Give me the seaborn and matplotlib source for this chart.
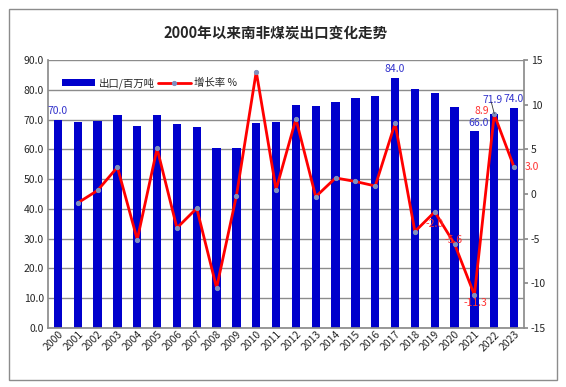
import numpy as np
import pandas as pd
import matplotlib
matplotlib.use("Agg")
import matplotlib.pyplot as plt
import seaborn as sns
from matplotlib.patches import Rectangle

years = [str(y) for y in range(2000, 2024)]
exports = [70.0, 69.2, 69.5, 71.5, 67.8, 71.5, 68.5, 67.4, 60.4, 60.4, 68.8, 69.1,
           74.8, 74.5, 75.8, 77.2, 77.9, 84.0, 80.2, 78.9, 74.2, 66.0, 71.9, 74.0]
growth = [np.nan, -1.0, 0.4, 3.0, -5.1, 5.1, -3.8, -1.6, -10.5, -0.2, 13.7, 0.5,
          8.4, -0.3, 1.8, 1.4, 0.9, 7.9, -4.2, -2.0, -5.6, -11.3, 8.9, 3.0]
bar_label_years = ["2000", "2017", "2021", "2022", "2023"]
growth_label_years = ["2019", "2020", "2021", "2022", "2023"]

title = "2000年以来南非煤炭出口变化走势"
bar_name = "出口/百万吨"
line_name = "增长率 %"

sns.set_theme(style="white")
plt.rcParams['font.family'] = ['Noto Sans CJK SC', 'DejaVu Sans']

df = pd.DataFrame({"year": years, "exports": exports, "growth": growth})
df["pos"] = np.arange(len(df))

fig = plt.figure(figsize=(5.66, 3.87), dpi=100)
fig.patches.append(Rectangle((0.016, 0.018), 0.968, 0.958, transform=fig.transFigure,
                             fill=False, edgecolor="#8c8c8c", linewidth=1.0))
ax = fig.add_axes([48/566, 1-328/387, (524-48)/566, (328-60)/387])

sns.barplot(data=df, x="year", y="exports", color="#0000CC", saturation=1,
            width=0.42, linewidth=0, ax=ax, label=bar_name)
ax.set_ylim(0, 90)
ax.set_yticks(np.arange(0, 91, 10))
ax.set_yticklabels([f"{v:.1f}" for v in np.arange(0, 91, 10)], fontsize=7.5)
ax.yaxis.grid(True, color="#8c8c8c", linewidth=1)
ax.xaxis.grid(False)
ax.set_axisbelow(True)
ax.set_xlabel("")
ax.set_ylabel("")
ax.set_xlim(-0.5, len(years) - 0.5)
ax.tick_params(axis="x", labelsize=7.5, pad=1, length=0)
for lbl in ax.get_xticklabels():
    lbl.set_ha("right")
    lbl.set_rotation_mode("anchor")
    lbl.set_rotation(45)
ax.tick_params(axis="y", length=0, pad=3)
for s in ["top", "right"]:
    ax.spines[s].set_visible(False)
for s in ["left", "bottom"]:
    ax.spines[s].set_color("#8c8c8c")

ax2 = ax.twinx()
sns.lineplot(data=df, x="pos", y="growth", color="#FF0000", linewidth=2,
             marker="o", markersize=3, markerfacecolor="#7f8fbf",
             markeredgecolor="#7f8fbf", ax=ax2, label=line_name)
ax2.grid(False)
ax2.set_ylim(-15, 15)
ax2.set_yticks(np.arange(-15, 16, 5))
ax2.set_yticklabels([str(v) for v in np.arange(-15, 16, 5)], fontsize=7.5)
ax2.tick_params(axis="y", length=3, color="#8c8c8c", pad=2)
ax2.set_ylabel("")
ax2.set_xlabel("")
for s in ["top", "left", "bottom"]:
    ax2.spines[s].set_visible(False)
ax2.spines["right"].set_color("#8c8c8c")
ax2.set_xlim(-0.5, len(years) - 0.5)

# data labels for exports
bar_offsets = {"2000": 0, "2017": 0, "2021": 0.2, "2022": -0.1, "2023": 0}
for y in bar_label_years:
    i = years.index(y)
    ax.text(i + bar_offsets[y], exports[i] + 3.0 + (1.6 if y == "2022" else 0),
            f"{exports[i]:.1f}", color="#3333CC", ha="center", va="center",
            fontsize=7.5)
# leader line for 2022 label
i22 = years.index("2022")
ax2.plot([i22 - 0.15, i22], [10.3, 9.0], color="#333333", linewidth=0.6)

offsets = {"2019": (0.0, -1.4, "center"),
           "2020": (-0.05, 0.5, "center"),
           "2021": (0.05, -0.9, "center"),
           "2022": (-0.25, 0.4, "right"),
           "2023": (0.55, 0.0, "left")}
for y in growth_label_years:
    i = years.index(y)
    ddx, ddy, ha = offsets[y]
    ax2.text(i + ddx, growth[i] + ddy, f"{growth[i]:.1f}", color="#FF3333",
             ha=ha, va="center", fontsize=7.5)

# legend
h1, l1 = ax.get_legend_handles_labels()
h2, l2 = ax2.get_legend_handles_labels()
if ax2.get_legend():
    ax2.get_legend().remove()
if ax.get_legend():
    ax.get_legend().remove()
ax2.legend(h1 + h2, l1 + l2, loc="upper left", bbox_to_anchor=(0.01, 0.97), ncol=2,
           frameon=False, fontsize=7.5, handlelength=3.2, handleheight=0.6,
           columnspacing=0.3, handletextpad=0.3)

fig.text(276/566, 1 - 33/387, title, ha="center", va="center", fontsize=10.5,
         fontweight="bold")

fig.savefig("out.png", dpi=100)
